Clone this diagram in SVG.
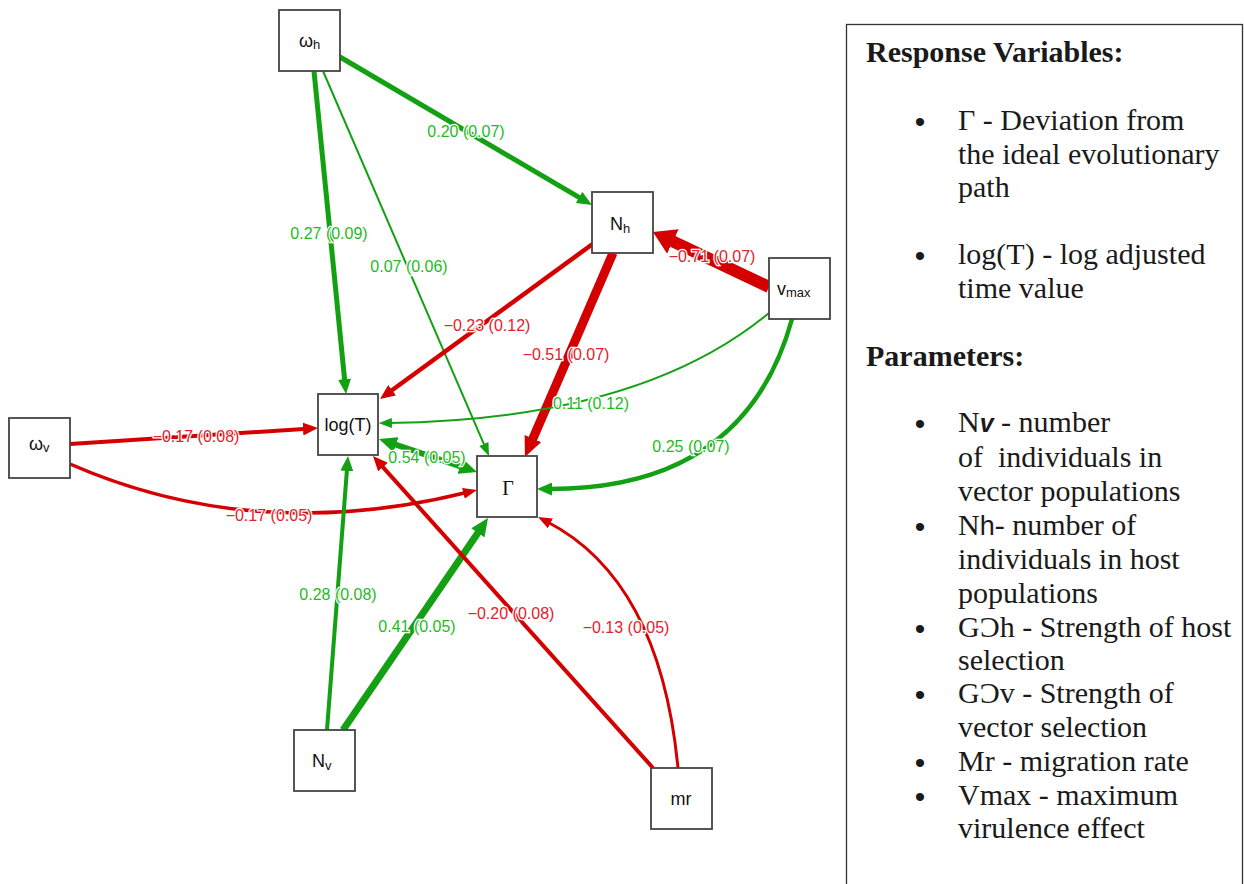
<svg xmlns="http://www.w3.org/2000/svg" width="1244" height="884" viewBox="0 0 1244 884">
<style>
.box{fill:#fff;stroke:#444;stroke-width:1.8}
.nl{font-family:"Liberation Sans",Arial,sans-serif;font-size:18px;fill:#111}
.sub{font-size:13px}
.g{fill:none;stroke:#13a013}
.r{fill:none;stroke:#d40000}
.lg{font-family:"Liberation Sans",Arial,sans-serif;font-size:16px;fill:#1fba1f;text-anchor:middle;paint-order:stroke;stroke:#fff;stroke-width:2.5px}
.lr{font-family:"Liberation Sans",Arial,sans-serif;font-size:16px;fill:#e5202a;text-anchor:middle;paint-order:stroke;stroke:#fff;stroke-width:2.5px}
.leg{font-family:"Liberation Serif","Times New Roman",serif;font-size:30px;fill:#1a1a1a}
.hd{font-weight:bold}
.bul{font-family:"Liberation Sans",Arial,sans-serif;font-size:30px;fill:#1a1a1a;text-anchor:middle}
</style>
<defs>
<marker id="gS" viewBox="0 0 10 10" refX="3" refY="5" markerWidth="13" markerHeight="10" markerUnits="userSpaceOnUse" orient="auto-start-reverse" preserveAspectRatio="none"><path d="M0,0L10,5L0,10z" fill="#13a013"/></marker>
<marker id="gM" viewBox="0 0 10 10" refX="3" refY="5" markerWidth="15" markerHeight="13" markerUnits="userSpaceOnUse" orient="auto-start-reverse" preserveAspectRatio="none"><path d="M0,0L10,5L0,10z" fill="#13a013"/></marker>
<marker id="gL" viewBox="0 0 10 10" refX="3" refY="5" markerWidth="18" markerHeight="16" markerUnits="userSpaceOnUse" orient="auto-start-reverse" preserveAspectRatio="none"><path d="M0,0L10,5L0,10z" fill="#13a013"/></marker>
<marker id="rS" viewBox="0 0 10 10" refX="3" refY="5" markerWidth="14" markerHeight="11" markerUnits="userSpaceOnUse" orient="auto" preserveAspectRatio="none"><path d="M0,0L10,5L0,10z" fill="#d40000"/></marker>
<marker id="rM" viewBox="0 0 10 10" refX="3" refY="5" markerWidth="15" markerHeight="13" markerUnits="userSpaceOnUse" orient="auto" preserveAspectRatio="none"><path d="M0,0L10,5L0,10z" fill="#d40000"/></marker>
<marker id="rL" viewBox="0 0 10 10" refX="3" refY="5" markerWidth="20" markerHeight="18" markerUnits="userSpaceOnUse" orient="auto" preserveAspectRatio="none"><path d="M0,0L10,5L0,10z" fill="#d40000"/></marker>
<marker id="rXL" viewBox="0 0 10 10" refX="3" refY="5" markerWidth="22" markerHeight="27" markerUnits="userSpaceOnUse" orient="auto" preserveAspectRatio="none"><path d="M0,0L10,5L0,10z" fill="#d40000"/></marker>
</defs>
<rect width="1244" height="884" fill="#fff"/>

<g id="connectors">
<path class="g" stroke-width="5" d="M340,57 L582.9,199.7" marker-end="url(#gM)"/>
<path class="g" stroke-width="5" d="M314,71 L345,383.5" marker-end="url(#gM)"/>
<path class="g" stroke-width="2" d="M323,71 L485.4,447.6" marker-end="url(#gS)"/>
<path class="r" stroke-width="4.5" d="M594,243 L388.5,392.8" marker-end="url(#rM)"/>
<path class="r" stroke-width="9" d="M613,253 L530.5,444.1" marker-end="url(#rL)"/>
<path class="r" stroke-width="12" d="M769,287 L666.9,238.6" marker-end="url(#rXL)"/>
<path class="g" stroke-width="2" d="M769,313 Q640,420 388,423" marker-end="url(#gS)"/>
<path class="g" stroke-width="4.5" d="M792,319 Q745,490 547.5,489" marker-end="url(#gM)"/>
<path class="r" stroke-width="4" d="M70,444 L307.5,428.7" marker-end="url(#rM)"/>
<path class="r" stroke-width="3.5" d="M70,464 Q255,545 467.5,492.3" marker-end="url(#rS)"/>
<path class="g" stroke-width="6" d="M390.9,443 L465.1,468" marker-start="url(#gL)" marker-end="url(#gL)"/>
<path class="g" stroke-width="4" d="M327,730 L347.2,466.5" marker-end="url(#gM)"/>
<path class="g" stroke-width="7" d="M343,730 L480.9,528.4" marker-end="url(#gL)"/>
<path class="r" stroke-width="4" d="M653,768 L380,463.8" marker-end="url(#rM)"/>
<path class="r" stroke-width="3" d="M678,768 Q660,580 546.7,521.5" marker-end="url(#rS)"/>
</g>

<g id="edge-labels">
<text class="lg" x="466" y="137">0.20 (0.07)</text>
<text class="lg" x="329" y="239">0.27 (0.09)</text>
<text class="lg" x="409" y="272">0.07 (0.06)</text>
<text class="lr" x="487" y="331">−0.23 (0.12)</text>
<text class="lr" x="566" y="360">−0.51 (0.07)</text>
<text class="lr" x="712" y="262">−0.71 (0.07)</text>
<text class="lg" x="591" y="409">0.11 (0.12)</text>
<text class="lg" x="691" y="452">0.25 (0.07)</text>
<text class="lr" x="196" y="442">−0.17 (0.08)</text>
<text class="lr" x="269" y="521">−0.17 (0.05)</text>
<text class="lg" x="427" y="463">0.54 (0.05)</text>
<text class="lg" x="338" y="600">0.28 (0.08)</text>
<text class="lg" x="417" y="632">0.41 (0.05)</text>
<text class="lr" x="511" y="619">−0.20 (0.08)</text>
<text class="lr" x="626" y="633">−0.13 (0.05)</text>
</g>

<g id="node-wh"><rect class="box" x="279" y="10" width="61" height="61"/><text class="nl" x="299" y="47">ω<tspan class="sub" dy="2">h</tspan></text></g>
<g id="node-Nh"><rect class="box" x="592" y="192" width="61" height="61"/><text class="nl" x="610" y="230">N<tspan class="sub" dy="3">h</tspan></text></g>
<g id="node-vmax"><rect class="box" x="769" y="258" width="61" height="61"/><text class="nl" x="777" y="295">v<tspan class="sub" dy="2">max</tspan></text></g>
<g id="node-wv"><rect class="box" x="9" y="418" width="61" height="60"/><text class="nl" x="29" y="450">ω<tspan class="sub" dy="2">v</tspan></text></g>
<g id="node-logT"><rect class="box" x="318" y="394" width="60" height="61"/><text class="nl" x="348" y="431" text-anchor="middle">log(T)</text></g>
<g id="node-Gamma"><rect class="box" x="477" y="456" width="60" height="61"/><text class="nl" x="508" y="495" text-anchor="middle" style="font-family:'Liberation Serif',serif;font-size:20px">Γ</text></g>
<g id="node-Nv"><rect class="box" x="294" y="730" width="61" height="61"/><text class="nl" x="312" y="767">N<tspan class="sub" dy="3">v</tspan></text></g>
<g id="node-mr"><rect class="box" x="651" y="768" width="61" height="61"/><text class="nl" x="681" y="805" text-anchor="middle">mr</text></g>

<g id="legend">
<rect x="846.5" y="24.5" width="396" height="900" fill="#fff" stroke="#333" stroke-width="1.3"/>
<text class="leg hd" x="866" y="62">Response Variables:</text>
<text class="bul" x="920" y="132">•</text>
<text class="leg" x="958" y="130">Γ - Deviation from</text>
<text class="leg" x="958" y="164">the ideal evolutionary</text>
<text class="leg" x="958" y="197">path</text>
<text class="bul" x="920" y="266">•</text>
<text class="leg" x="958" y="264">log(T) - log adjusted</text>
<text class="leg" x="958" y="298">time value</text>
<text class="leg hd" x="866" y="366">Parameters:</text>
<text class="bul" x="920" y="434">•</text>
<text class="leg" x="958" y="432">N<tspan style="font-family:'Liberation Sans',sans-serif;font-weight:bold;font-style:italic;font-size:25px">v</tspan> - number</text>
<text class="leg" x="958" y="467" xml:space="preserve">of  individuals in</text>
<text class="leg" x="958" y="501">vector populations</text>
<text class="bul" x="920" y="537">•</text>
<text class="leg" x="958" y="535">N<tspan style="font-family:'Liberation Sans',sans-serif;font-size:27px">h</tspan>- number of</text>
<text class="leg" x="958" y="569">individuals in host</text>
<text class="leg" x="958" y="603">populations</text>
<text class="bul" x="920" y="639">•</text>
<text class="leg" x="958" y="637">GƆh - Strength of host</text>
<text class="leg" x="958" y="670">selection</text>
<text class="bul" x="920" y="705">•</text>
<text class="leg" x="958" y="703">GƆv - Strength of</text>
<text class="leg" x="958" y="737">vector selection</text>
<text class="bul" x="920" y="773">•</text>
<text class="leg" x="958" y="771">Mr - migration rate</text>
<text class="bul" x="920" y="807">•</text>
<text class="leg" x="958" y="805">Vmax - maximum</text>
<text class="leg" x="958" y="838">virulence effect</text>
</g>
</svg>
